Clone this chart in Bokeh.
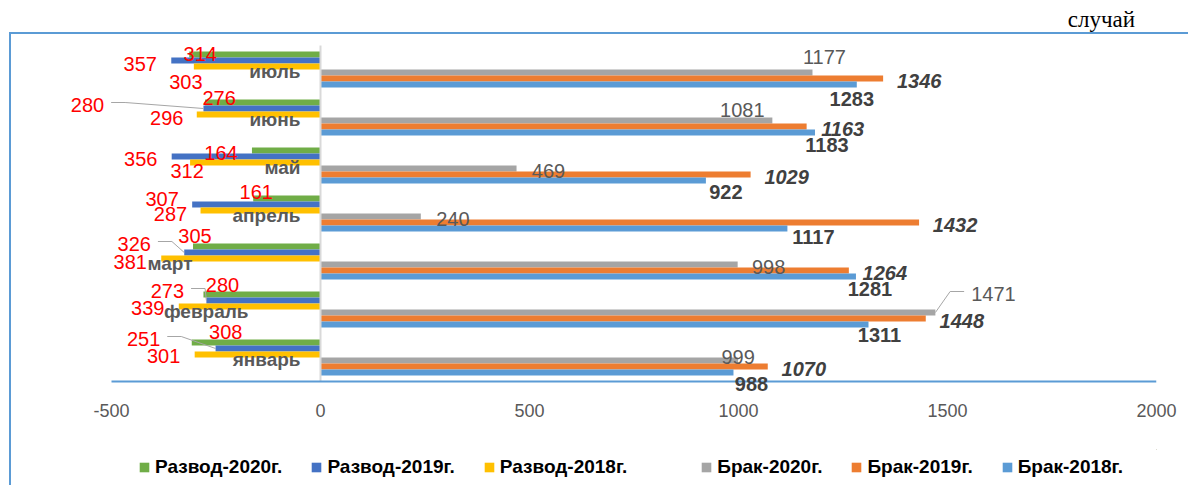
from bokeh.plotting import figure
from bokeh.layouts import column, row
from bokeh.models import (Range1d, FixedTicker, Legend, LegendItem,
                          ColumnDataSource, Div, Spacer)
from bokeh.transform import dodge
from bokeh.core.properties import value
from bokeh.embed import file_html
from bokeh.resources import INLINE

# ---------------- data ----------------
months = ["январь", "февраль", "март", "апрель", "май", "июнь", "июль"]
razvod_2020 = [308, 280, 305, 161, 164, 276, 314]
razvod_2019 = [251, 273, 326, 307, 356, 280, 357]
razvod_2018 = [301, 339, 381, 287, 312, 296, 303]
brak_2020 = [999, 1471, 998, 240, 469, 1081, 1177]
brak_2019 = [1070, 1448, 1264, 1432, 1029, 1163, 1346]
brak_2018 = [988, 1311, 1281, 1117, 922, 1183, 1283]
series_names = ["Развод-2020г.", "Развод-2019г.", "Развод-2018г.",
                "Брак-2020г.", "Брак-2019г.", "Брак-2018г."]
x_ticks = [-500, 0, 500, 1000, 1500, 2000]
unit_label = "случай"

# ---------------- styling / layout ----------------
colors = ["#70AD47", "#4472C4", "#FFC000", "#A5A5A5", "#ED7D31", "#5B9BD5"]
offsets = [0.3125, 0.1875, 0.0625, -0.0625, -0.1875, -0.3125]
bar_h = 0.125
TOTAL_W, TOTAL_H = 1188, 485
TITLE_H, LINE_W, INDENT = 32, 2, 9
BODY_W = TOTAL_W - INDENT - LINE_W
BODY_H = TOTAL_H - TITLE_H - LINE_W
H_MAIN = 415
H_LEG = BODY_H - H_MAIN
PLOT_L, PLOT_R = 100, 32          # pixel margins of the -500..2000 axis span
EXT_L, EXT_T, EXT_B = 50, 8, 14    # extra frame room so outside labels are not clipped
BAND = 48.0
ML, MR, MT = PLOT_L - EXT_L, PLOT_R, 11 - EXT_T
FRAME_H = int(BAND * len(months)) + EXT_T + EXT_B
MB = H_MAIN - MT - FRAME_H
FONT = "Liberation Sans"
ux = (x_ticks[-1] - x_ticks[0]) / float(BODY_W - PLOT_L - PLOT_R)   # data units per px
uy = 1.0 / BAND
BORDER = "#5B9BD5"
LEGEND_POS = (77, 7)

# label offsets in pixels (screen, y downwards) relative to bar end
lab_dx = [
    [34, 19, 2, 3, -31, 14, 11],
    [-72, -39, -50, -30, -31, -116, -31],
    [-31, -31, -31, -30, -3, -30, -8],
    [0, 58, 31, 32, 32, -30, 12],
    [36] * 7,
    [18, 11, 14, 26, 20, 12, -5],
]
lab_dy = [
    [-11, -10, -11, -7, 2, -5, -1],
    [-10, -10, -9, -6, 2, -4, 3],
    [1, 1, 3, 3, 8, 3, 15],
    [-4, -19, 2, 2, 2, -11, -16],
    [2] * 7,
    [11, 10, 12, 8, 11, 12, 14],
]
lab_color = ["#FF0000", "#FF0000", "#FF0000", "#595959", "#404040", "#404040"]
lab_style = ["normal", "normal", "normal", "normal", "bold italic", "bold"]
leaders = [(1, 0), (1, 1), (1, 2), (1, 5), (3, 1)]
cat_dx = [-20, -72, -128, -20, -20, -20, -20]

all_vals = [razvod_2020, razvod_2019, razvod_2018, brak_2020, brak_2019, brak_2018]
signs = [-1, -1, -1, 1, 1, 1]
ypos = list(range(len(months)))
y_lo, y_hi = -0.5, len(months) - 0.5

p = figure(width=BODY_W, height=H_MAIN,
           x_range=Range1d(x_ticks[0] - EXT_L * ux, x_ticks[-1]),
           y_range=Range1d(y_lo - EXT_B * uy, y_hi + EXT_T * uy), title=None,
           y_axis_location=None,
           output_backend="svg", toolbar_location=None,
           min_border_left=ML, min_border_right=MR, min_border_top=MT, min_border_bottom=MB)
p.outline_line_color = None
p.xgrid.visible = False
p.ygrid.visible = False

renderers = []
for k in range(6):
    src = ColumnDataSource(dict(ypos=ypos, val=[signs[k] * v for v in all_vals[k]]))
    r = p.hbar(y=dodge("ypos", offsets[k]), right="val", left=0,
               height=bar_h, source=src, fill_color=colors[k], line_color=None)
    renderers.append(r)

# zero (category) axis line and value axis line
p.segment(x0=[0], y0=[y_lo], x1=[0], y1=[y_hi], line_color="#D9D9D9", line_width=2)
p.segment(x0=[x_ticks[0]], y0=[y_lo], x1=[x_ticks[-1]], y1=[y_lo],
          line_color=BORDER, line_width=2)

# data labels
for k in range(6):
    src = ColumnDataSource(dict(ypos=ypos, val=[signs[k] * v for v in all_vals[k]],
                                txt=[str(v) for v in all_vals[k]],
                                dx=lab_dx[k], dy=lab_dy[k]))
    p.text(x="val", y=dodge("ypos", offsets[k]), text="txt",
           x_offset="dx", y_offset="dy", source=src,
           text_align="center", text_baseline="middle",
           text_font=value(FONT), text_font_size="20px",
           text_font_style=lab_style[k], text_color=lab_color[k])

# leader lines
xs, ys = [], []
for (k, i) in leaders:
    v = signs[k] * all_vals[k][i]
    y0 = ypos[i] + offsets[k]
    dx, dy = lab_dx[k][i], lab_dy[k][i]
    hw = len(str(all_vals[k][i])) * 0.556 * 20 / 2
    if dx < 0:
        p2 = dx + hw + 7
        p1 = p2 + 14
    else:
        p2 = dx - hw - 7
        p1 = p2 - 14
    ly = dy - 2
    xs.append([v + p2 * ux, v + p1 * ux, v])
    ys.append([y0 - ly * uy, y0 - ly * uy, y0])
p.multi_line(xs=xs, ys=ys, line_color="#A6A6A6", line_width=1)

# category labels
csrc = ColumnDataSource(dict(ypos=ypos, month=months, x=[0] * 7, dx=cat_dx, dy=[1.5] * 7))
p.text(x="x", y="ypos", text="month", x_offset="dx", y_offset="dy", source=csrc,
       text_align="right", text_baseline="middle", text_font=value(FONT),
       text_font_size="19px", text_font_style="bold", text_color="#595959")

# x axis (tick labels only; line drawn above)
ax = p.xaxis[0]
ax.ticker = FixedTicker(ticks=x_ticks)
ax.major_label_overrides = {t: str(t) for t in x_ticks}
ax.axis_line_color = None
ax.major_tick_line_color = None
ax.minor_tick_line_color = None
ax.major_tick_out = 0
ax.minor_tick_out = 0
ax.major_label_standoff = 8
ax.major_label_text_font = FONT
ax.major_label_text_font_size = "18px"
ax.major_label_text_color = "#595959"

# ---------------- legend strip ----------------
pl = figure(width=BODY_W, height=H_LEG, x_range=Range1d(0, 1), y_range=Range1d(0, 1),
            output_backend="svg", toolbar_location=None, title=None,
            x_axis_location=None, y_axis_location=None,
            min_border_left=ML, min_border_right=MR, min_border_top=0, min_border_bottom=0)
pl.grid.visible = False
pl.outline_line_color = None
leg_r = [pl.hbar(y=[5], left=[4], right=[5], height=0.1, fill_color=colors[k], line_color=None)
         for k in range(6)]
spacer = pl.hbar(y=[5], left=[4], right=[5], height=0.1, fill_alpha=0, line_alpha=0)
items = [LegendItem(label=series_names[k], renderers=[leg_r[k]]) for k in range(3)]
items.append(LegendItem(label="", renderers=[spacer]))
items += [LegendItem(label=series_names[k], renderers=[leg_r[k]]) for k in range(3, 6)]
legend = Legend(items=items, orientation="horizontal", location=LEGEND_POS,
                glyph_width=12, glyph_height=12, label_standoff=5, spacing=28,
                label_text_font=FONT, label_text_font_size="19px", label_text_font_style="bold",
                label_text_color="black", border_line_color=None, background_fill_alpha=0,
                padding=0, margin=0, label_width=0)
pl.add_layout(legend)

# ---------------- unit text and chart-area border ----------------
title_div = Div(text='<span style="position:relative;top:6px">' + unit_label + '</span>',
                width=1135, height=TITLE_H, margin=0,
                styles={"font-family": "Liberation Serif", "font-size": "23px",
                        "color": "black", "text-align": "right", "line-height": "28px"})
top_line = Div(text="", width=TOTAL_W - INDENT, height=LINE_W, margin=0,
               styles={"background-color": BORDER})
left_line = Div(text="", width=LINE_W, height=BODY_H, margin=0,
                styles={"background-color": BORDER})

layout = column(
    title_div,
    row(Spacer(width=INDENT, height=LINE_W, margin=0), top_line, spacing=0),
    row(Spacer(width=INDENT, height=BODY_H, margin=0), left_line,
        column(p, pl, spacing=0), spacing=0),
    spacing=0,
)
open("out.html", "w").write(file_html(layout, INLINE))
